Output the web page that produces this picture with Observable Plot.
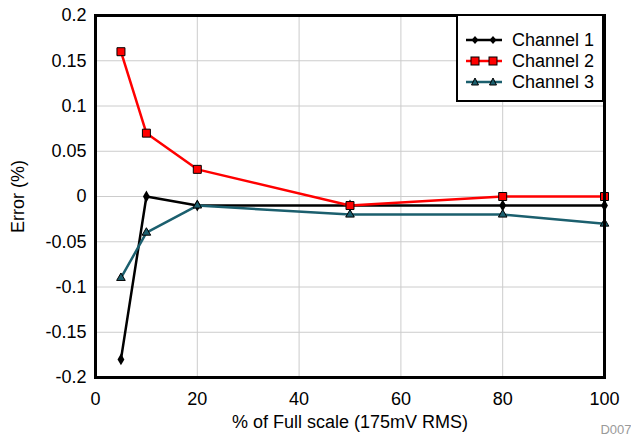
<!DOCTYPE html>
<html>
<head>
<meta charset="utf-8">
<script src="https://cdn.jsdelivr.net/npm/d3@7"></script>
<script src="https://cdn.jsdelivr.net/npm/@observablehq/plot@0.6"></script>
<style>
  html, body { margin: 0; padding: 0; background: #fff; }
  #wrap { position: relative; width: 631px; height: 438px; font-family: "Liberation Sans", Arial, sans-serif; }
  #legend { position: absolute; left: 456px; top: 14px; width: 144px; height: 84px; border: 2px solid #000; background: #fff; box-sizing: content-box; }
  .row { position: absolute; left: 8px; height: 20px; display: flex; align-items: center; font-size: 18px; color: #000; white-space: nowrap; }
  .row svg { margin-right: 10px; }
</style>
</head>
<body>
<div id="wrap"></div>
<script>
const pct = [5, 10, 20, 50, 80, 100];
const channel1 = [-0.18, 0, -0.01, -0.01, -0.01, -0.01];
const channel2 = [0.16, 0.07, 0.03, -0.01, 0, 0];
const channel3 = [-0.09, -0.04, -0.01, -0.02, -0.02, -0.03];
const seriesNames = ["Channel 1", "Channel 2", "Channel 3"];
const xTicks = [0, 20, 40, 60, 80, 100];
const yTicks = [-0.2, -0.15, -0.1, -0.05, 0, 0.05, 0.1, 0.15, 0.2];
const xLabel = "% of Full scale (175mV RMS)";
const yLabel = "Error (%)";
const code = "D007";

const colors = ["#000000", "#ff0000", "#1b5f6e"];
const symbols = ["diamond", "square", "triangle"];
const rs = [3.6, 4.5, 3.2];

const allSeries = [channel1, channel2, channel3];
const data = [];
allSeries.forEach((vals, i) => vals.forEach((v, j) => data.push({x: pct[j], y: v, s: seriesNames[i], i})));

const marks = [
  Plot.gridX(xTicks, {stroke: "#cccccc", strokeOpacity: 1, strokeWidth: 1}),
  Plot.gridY(yTicks, {stroke: "#cccccc", strokeOpacity: 1, strokeWidth: 1}),
  Plot.axisX(xTicks, {tickSize: 0, tickPadding: 15, fontSize: 18, label: null}),
  Plot.axisY(yTicks, {tickSize: 0, tickPadding: 9, fontSize: 18, label: null, tickFormat: d => String(d)}),
];
seriesNames.forEach((name, i) => {
  const d = data.filter(r => r.i === i);
  marks.push(Plot.line(d, {x: "x", y: "y", stroke: colors[i], strokeWidth: 2.5}));
  marks.push(Plot.dot(d, {x: "x", y: "y", symbol: () => symbols[i], r: rs[i], fill: colors[i], stroke: "#000", strokeWidth: i === 0 ? 0 : 1}));
});
marks.push(Plot.frame({stroke: "#000", strokeWidth: 3}));
marks.push(Plot.text([xLabel], {frameAnchor: "bottom", lineAnchor: "bottom", dy: 50, fontSize: 18, fill: "#000"}));
marks.push(Plot.text([yLabel], {frameAnchor: "left", textAnchor: "middle", lineAnchor: "middle", rotate: -90, dx: -77, fontSize: 18, fill: "#000"}));
marks.push(Plot.text([code], {frameAnchor: "bottom-right", textAnchor: "end", lineAnchor: "bottom", dx: 27, dy: 56, fontSize: 13, fill: "#9a9a9a"}));

const chart = Plot.plot({
  width: 631,
  height: 438,
  marginLeft: 95,
  marginRight: 27,
  marginTop: 15,
  marginBottom: 61,
  x: {domain: [0, 100]},
  y: {domain: [-0.2, 0.2]},
  symbol: {type: "identity"},
  style: {fontFamily: "'Liberation Sans', Arial, sans-serif", fontSize: "18px", color: "#000", background: "#fff"},
  marks
});
const wrap = document.getElementById("wrap");
wrap.appendChild(chart);

// Legend
const legend = document.createElement("div");
legend.id = "legend";
const tops = [14, 35, 56];
const symSvg = [
  '<path d="M9 -4 L12.5 0 L9 4 L5.5 0 Z M27 -4 L30.5 0 L27 4 L23.5 0 Z" fill="#000"/>',
  '<rect x="5" y="-4" width="8" height="8" fill="#ff0000" stroke="#000"/><rect x="23" y="-4" width="8" height="8" fill="#ff0000" stroke="#000"/>',
  '<path d="M9 -4 L12.5 3 L5.5 3 Z M27 -4 L30.5 3 L23.5 3 Z" fill="#1b5f6e" stroke="#000"/>'
];
seriesNames.forEach((name, i) => {
  const row = document.createElement("div");
  row.className = "row";
  row.style.top = tops[i] + "px";
  row.innerHTML = `<svg width="36" height="12" viewBox="0 -6 36 12"><line x1="0" y1="0" x2="36" y2="0" stroke="${colors[i]}" stroke-width="2.5"/>${symSvg[i]}</svg><span>${name}</span>`;
  legend.appendChild(row);
});
wrap.appendChild(legend);
</script>
</body>
</html>
